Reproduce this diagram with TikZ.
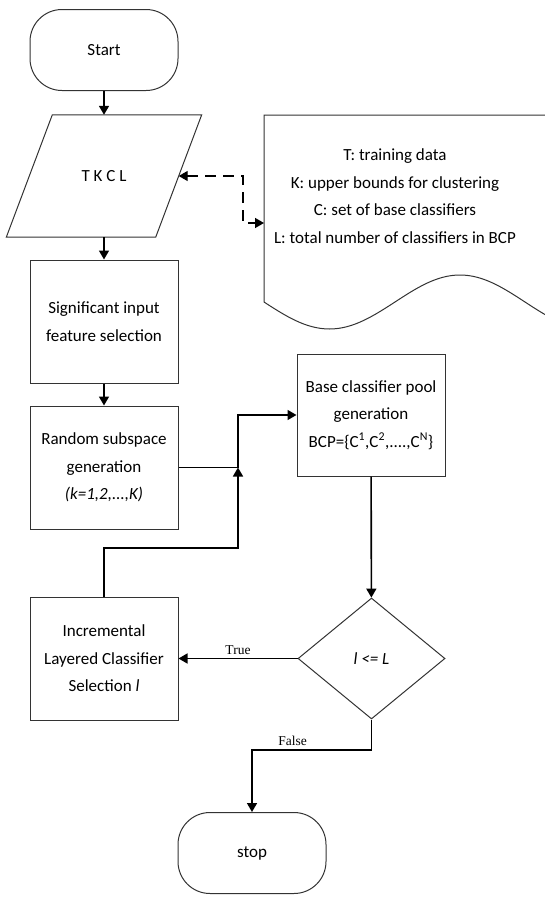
\documentclass[tikz,border=0pt]{standalone}
\usepackage{fontspec}
\setmainfont{Carlito}
\newfontfamily\labelfont{Liberation Serif}
\usetikzlibrary{shapes.geometric,arrows.meta,positioning,calc}
\tikzstyle{terminal} = [rectangle, draw=black!80, line width=1pt,
                        rounded corners=32pt,
                        minimum width=148pt, minimum height=81pt,
                        text centered]
\tikzstyle{process} = [rectangle, draw=black!80, line width=1pt,
                       minimum width=148pt, minimum height=123pt,
                       align=center]
\tikzstyle{decision} = [diamond, draw=black!80, line width=1pt,
                        inner sep=0pt,
                        minimum width=147pt, minimum height=121pt]
\tikzstyle{arrow} = [-{Triangle[length=9pt,width=10pt]}, line width=1.6pt]
\tikzstyle{dasharrow} = [{Triangle[length=9pt,width=10pt]}-{Triangle[length=9pt,width=10pt]},
                         line width=1.4pt, dash pattern=on 11pt off 7pt]
\tikzstyle{branch} = [font=\labelfont\fontsize{13.5}{15}\selectfont]

\begin{document}
\begin{tikzpicture}[x=1pt, y=-1pt, font=\fontsize{17}{27.5}\selectfont]
    \useasboundingbox (0,0) rectangle (545,897);
    \clip (0,0) rectangle (545,897);

    % Main column
    \node[terminal] (start) at (104,50) {Start};
    \node[rectangle, minimum width=149pt, minimum height=122pt] (input) at (104,176) {T K C L};
    \draw[draw=black!80, line width=1pt]
        ($(input.north west)+(23,0)$) -- ($(input.north east)+(23,0)$)
        -- ($(input.south east)+(-23,0)$) -- ($(input.south west)+(-23,0)$) -- cycle;
    \node[process] (feat) at (104,321.5) {Significant input\\feature selection};
    \node[process] (rsg) at (104,467.5) {Random subspace\\generation\\\textit{(k=1,2,...,K)}};
    \node[process] (ils) at (104,658.5) {Incremental\\Layered Classifier\\Selection \textit{l}};

    % Right column
    \node[process, minimum height=122pt] (bcp) at (371,415)
        {Base classifier pool\\generation\\BCP=\{C\textsuperscript{1},C\textsuperscript{2},....,C\textsuperscript{N}\}};
    \node[decision] (cond) at (371.5,658.5) {\textit{l <= L}};
    \node[terminal] (stop) at (252,853) {stop};

    % Notes (document shape)
    \draw[draw=black!80, line width=1pt] (590,329) -- (590,115) -- (264,115) -- (264,302)
        sin (329.5,329) cos (395,302) sin (460,275) cos (525,302) sin (590,329);
    \node[align=center] (notes) at (395,196)
        {T: training data\\K: upper bounds for clustering\\C: set of base classifiers\\L: total number of classifiers in BCP};
    \coordinate (docin) at (264,223);
    \coordinate (dbend) at (243,223);

    % Flow
    \draw[arrow] (start) -- (input);
    \draw[arrow] (input) -- (feat);
    \draw[arrow] (feat) -- (rsg);
    \draw[dasharrow] (input.east) -| (dbend) -- (docin);

    \coordinate (join) at (238,467.5);
    \coordinate (loop) at (238,548);
    \draw[line width=1.6pt] (rsg.east) -- (join);
    \draw[arrow] (ils.north) |- (loop) -- (join);
    \draw[arrow] (join) |- (bcp.west);
    \draw[arrow] (bcp) -- (cond);
    \draw[arrow] (cond.west) -- node[midway, above, branch] {True} (ils.east);

    \coordinate (fbend) at (371.5,750);
    \draw[arrow] (cond.south) -- (fbend) -| node[pos=0.33, above, branch] {False} (stop.north);
\end{tikzpicture}
\end{document}
